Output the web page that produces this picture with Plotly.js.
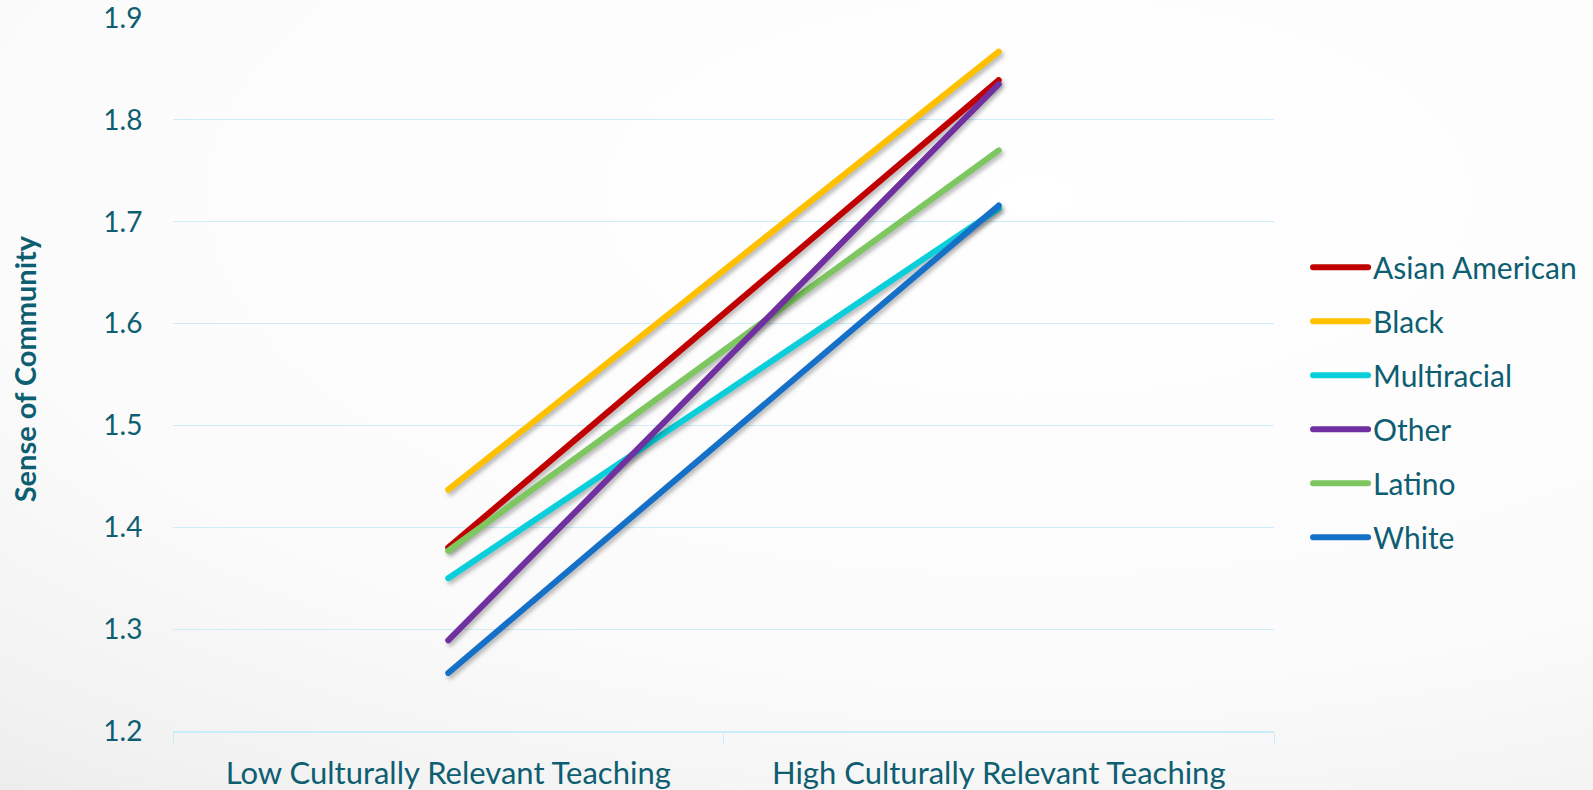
<!DOCTYPE html>
<html>
<head>
<meta charset="utf-8">
<script src="https://cdn.plot.ly/plotly-3.0.1.min.js"></script>
<style>
  html, body { margin: 0; padding: 0; width: 1593px; height: 790px; overflow: hidden; }
  body { background: radial-gradient(ellipse 120% 110% at 65% 25%, #ffffff 0%, #fbfbfb 55%, #f1f1f1 80%, #e4e4e4 100%); }
  #chart { width: 1593px; height: 790px; }
  .scatterlayer path.js-line { stroke-linecap: round; }
  .scatterlayer .trace { filter: drop-shadow(2px 3px 2px rgba(0,0,0,0.28)); }
  .legend .legendlines path { stroke-linecap: round; }
</style>
</head>
<body>
<div id="chart"></div>
<script>
const categories = ["Low Culturally Relevant Teaching", "High Culturally Relevant Teaching"];
const seriesNames = ["Asian American", "Black", "Multiracial", "Other", "Latino", "White"];
const asianAmerican = [1.380, 1.839];
const black = [1.437, 1.867];
const multiracial = [1.350, 1.713];
const other = [1.289, 1.835];
const latino = [1.377, 1.770];
const white = [1.257, 1.716];
const seriesValues = [asianAmerican, black, multiracial, other, latino, white];
const seriesColors = ["#C00000", "#FFC000", "#0ACFDB", "#7030A0", "#7DC660", "#1570C8"];
const yTickValues = [1.2, 1.3, 1.4, 1.5, 1.6, 1.7, 1.8, 1.9];
const yTitle = "Sense of Community";

const textColor = "#0E5E72";
const fontFam = "Lato, 'Open Sans', sans-serif";

// Draw order so that overlaps match the reference
const drawOrder = [1, 0, 2, 5, 4, 3];
const traces = drawOrder.map(i => ({
  type: "scatter",
  mode: "lines",
  name: seriesNames[i],
  x: categories,
  y: seriesValues[i],
  line: { color: seriesColors[i], width: 6 },
  legendgroup: "g" + i,
  legendrank: i + 1,
  hoverinfo: "name+y"
}));

const layout = {
  width: 1593,
  height: 790,
  paper_bgcolor: "rgba(0,0,0,0)",
  plot_bgcolor: "rgba(0,0,0,0)",
  margin: { l: 173, r: 318, t: 18, b: 59 },
  font: { family: fontFam, color: textColor },
  showlegend: true,
  legend: {
    x: 1.03, xanchor: "left",
    y: 0.687, yanchor: "top",
    font: { size: 30, color: textColor, family: fontFam },
    traceorder: "grouped",
    tracegroupgap: 12,
    itemwidth: 55,
    bgcolor: "rgba(0,0,0,0)"
  },
  xaxis: {
    type: "category",
    range: [-0.5, 1.5],
    showgrid: false,
    showline: true,
    linecolor: "#C9ECF6",
    linewidth: 1.5,
    ticks: "outside",
    tickson: "boundaries",
    ticklen: 12,
    tickcolor: "#C9ECF6",
    ticklabelstandoff: 14,
    tickfont: { size: 31, color: textColor, family: fontFam },
    zeroline: false,
    fixedrange: true
  },
  yaxis: {
    range: [1.2, 1.9],
    tickvals: yTickValues,
    ticktext: yTickValues.map(v => v.toFixed(1)),
    ticklabeloverflow: "allow",
    showgrid: true,
    gridcolor: "#CDEEF8",
    gridwidth: 1.2,
    showline: false,
    zeroline: false,
    ticks: "outside",
    ticklen: 24,
    tickcolor: "rgba(0,0,0,0)",
    tickfont: { size: 28, color: textColor, family: fontFam },
    fixedrange: true
  },
  annotations: [{
    text: yTitle,
    xref: "paper", yref: "paper",
    x: 0, y: 0.508,
    xanchor: "center", yanchor: "middle",
    xshift: -148.5,
    textangle: -90,
    showarrow: false,
    font: { size: 29, color: textColor, family: fontFam, weight: "bold" }
  }]
};

Plotly.newPlot("chart", traces, layout, { displayModeBar: false, staticPlot: true });
</script>
</body>
</html>
